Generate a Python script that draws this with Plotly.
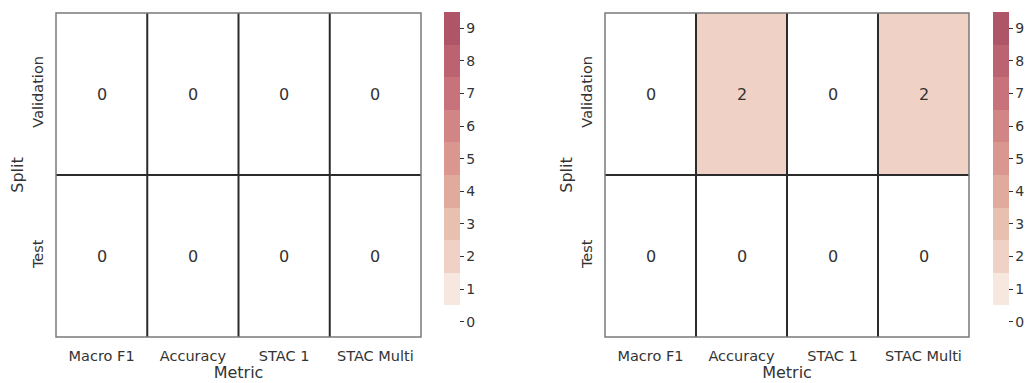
import plotly.graph_objects as go

metrics = ["Macro F1", "Accuracy", "STAC 1", "STAC Multi"]
splits = ["Validation", "Test"]
counts_left = [[0, 0, 0, 0],
               [0, 0, 0, 0]]
counts_right = [[0, 2, 0, 2],
                [0, 0, 0, 0]]
cbar_ticks = list(range(10))

band_colors = ["#ffffff", "#f6e7df", "#efd2c5", "#e8c0b0", "#e0aa9c",
               "#d9978f", "#d18585", "#c8737c", "#bc6372", "#ae5567"]
colorscale = []
n = len(band_colors)
for i, c in enumerate(band_colors):
    colorscale.append([i / n, c])
    colorscale.append([(i + 1) / n, c])

W, H = 1030, 383
FONT = "DejaVu Sans"
TXT = "#333333"

panels = [
    dict(z=counts_left, x0=55, x1=422, cb=444, xa="x", ya="y"),
    dict(z=counts_right, x0=604, x1=970, cb=993, xa="x2", ya="y2"),
]
top, bottom = 12, 338

fig = go.Figure()
layout = {}
shapes = []
for k, p in enumerate(panels):
    fig.add_trace(go.Heatmap(
        z=p["z"], x=metrics, y=splits,
        zmin=-0.5, zmax=9.5, colorscale=colorscale,
        texttemplate="%{z}", textfont=dict(size=16, color=TXT, family=FONT),
        xaxis=p["xa"], yaxis=p["ya"], hoverinfo="skip",
        colorbar=dict(
            x=p["cb"] / W, xanchor="left", thickness=16, thicknessmode="pixels",
            y=(H - bottom) / H, yanchor="bottom", len=(bottom - top) / H,
            lenmode="fraction", xpad=0, ypad=0, outlinewidth=0,
            tickvals=cbar_ticks, ticks="outside", ticklen=4, tickcolor=TXT,
            tickfont=dict(size=14, color=TXT, family=FONT),
        ),
    ))
    sfx = "" if k == 0 else str(k + 1)
    layout["xaxis" + sfx] = dict(
        domain=[p["x0"] / W, p["x1"] / W], anchor="y" + sfx,
        showgrid=False, zeroline=False, ticks="", ticklabelstandoff=7,
        tickfont=dict(size=14.5, color=TXT, family=FONT),
        title=dict(text="Metric", font=dict(size=16, color=TXT, family=FONT), standoff=1),
    )
    layout["yaxis" + sfx] = dict(
        domain=[(H - bottom) / H, (H - top) / H], anchor="x" + sfx,
        autorange="reversed", showgrid=False, zeroline=False, ticks="",
        tickangle=-90, ticklabelstandoff=8,
        tickfont=dict(size=14.5, color=TXT, family=FONT),
        title=dict(text="Split", font=dict(size=16, color=TXT, family=FONT), standoff=2),
    )
    xr, yr = "x" + sfx, "y" + sfx
    # cell separators
    for i in range(1, len(metrics)):
        shapes.append(dict(type="line", xref=xr, yref=yr, x0=i - 0.5, x1=i - 0.5,
                           y0=-0.5, y1=len(splits) - 0.5,
                           line=dict(color="#2b2b2b", width=2)))
    for j in range(1, len(splits)):
        shapes.append(dict(type="line", xref=xr, yref=yr, y0=j - 0.5, y1=j - 0.5,
                           x0=-0.5, x1=len(metrics) - 0.5,
                           line=dict(color="#2b2b2b", width=2)))
    # outer frame
    shapes.append(dict(type="rect", xref=xr, yref=yr, x0=-0.5, x1=len(metrics) - 0.5,
                       y0=-0.5, y1=len(splits) - 0.5,
                       line=dict(color="#7a7a7a", width=1.5)))

fig.update_layout(
    width=W, height=H, margin=dict(l=0, r=0, t=0, b=0),
    paper_bgcolor="white", plot_bgcolor="white",
    shapes=shapes, **layout,
)
fig.write_html("out.html")
